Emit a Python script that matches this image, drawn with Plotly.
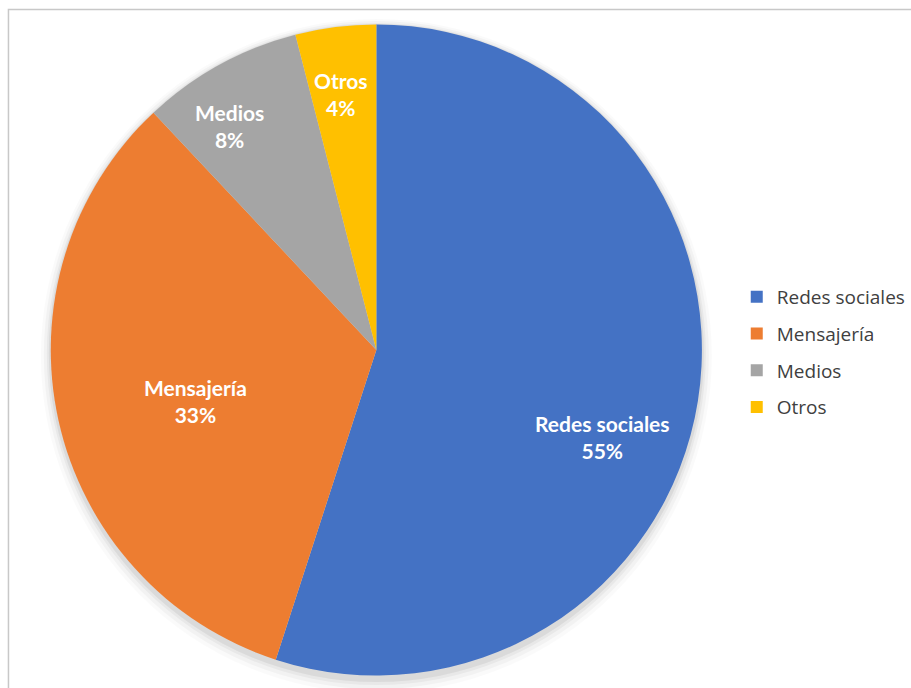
import math
import plotly.graph_objects as go

# Share of sources (percent)
labels = ["Redes sociales", "Mensajería", "Medios", "Otros"]
values = [55, 33, 8, 4]
colors = ["#4472C4", "#ED7D31", "#A5A5A5", "#FFC000"]

# label placement: angular shift from slice mid-angle (deg) and radius fraction
label_shift = [12, -3, -4.5, -0.6]
label_rfrac = [0.745, 0.577, 0.82, 0.79]

W, H = 911, 688
cx, cy, r = 378, 350, 327  # pie centre and radius in pixels


def dom(cx_, cy_, r_):
    return dict(x=[(cx_ - r_) / W, (cx_ + r_) / W],
                y=[1 - (cy_ + r_) / H, 1 - (cy_ - r_) / H])


def circle(cx_, cy_, r_, fill):
    return dict(type="circle", xref="paper", yref="paper",
                x0=(cx_ - r_) / W, x1=(cx_ + r_) / W,
                y0=1 - (cy_ + r_) / H, y1=1 - (cy_ - r_) / H,
                fillcolor=fill, line=dict(width=0), layer="below")


fig = go.Figure()

fig.add_trace(go.Pie(
    labels=labels, values=values, sort=False, direction="clockwise", rotation=0,
    marker=dict(colors=colors, line=dict(width=0)),
    domain=dom(cx, cy, r), textinfo="none",
    hoverinfo="label+percent", showlegend=False,
))

# legend entries, one group each so the rows can be spaced out
for lab, col in zip(labels, colors):
    fig.add_trace(go.Scatter(
        x=[None], y=[None], mode="markers", name=lab, legendgroup=lab,
        marker=dict(symbol="square", size=12, color=col), hoverinfo="skip",
    ))

# in-slice labels, placed around each slice's mid-angle
total = sum(values)
annotations = []
start = 0.0
for lab, v, sh, rf in zip(labels, values, label_shift, label_rfrac):
    span = 360.0 * v / total
    ang = math.radians(start + span / 2 + sh)
    px = cx + rf * r * math.sin(ang)
    py = cy - rf * r * math.cos(ang)
    annotations.append(dict(
        x=px / W, y=1 - py / H, xref="paper", yref="paper", showarrow=False,
        xanchor="center", yanchor="middle",
        text=f"<b>{lab}</b><br><b>{round(100 * v / total)}%</b>",
        font=dict(family="Lato", size=21, color="white"), align="center",
    ))
    start += span

# frame plus a soft drop shadow underneath the pie
shapes = [dict(type="rect", xref="paper", yref="paper",
               x0=8.5 / W, x1=1.02, y0=-0.02, y1=1 - 9.5 / H,
               line=dict(color="#C8C8C8", width=1.5), layer="below")]
for dr, dy, a in [(10, 6, 0.02), (7, 5, 0.03), (4, 4, 0.04), (2, 3, 0.06)]:
    shapes.append(circle(cx, cy + dy, r + dr, f"rgba(0,0,0,{a})"))

fig.update_layout(
    width=W, height=H,
    margin=dict(l=0, r=0, t=0, b=0),
    paper_bgcolor="white", plot_bgcolor="rgba(0,0,0,0)",
    xaxis=dict(visible=False), yaxis=dict(visible=False),
    showlegend=True,
    legend=dict(x=740 / W, y=1 - 352 / H, xanchor="left", yanchor="middle",
                traceorder="grouped", tracegroupgap=9,
                font=dict(family="Open Sans", size=19, color="#404040"),
                bgcolor="rgba(0,0,0,0)"),
    annotations=annotations,
    shapes=shapes,
)

fig.write_html("out.html")
